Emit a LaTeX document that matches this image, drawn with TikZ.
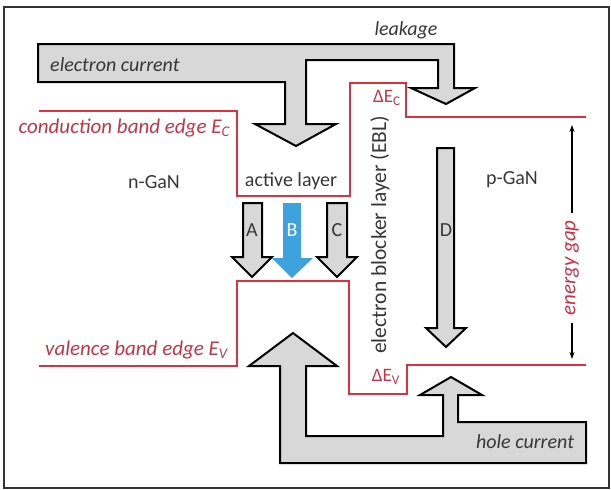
\documentclass[tikz,border=0pt]{standalone}
\usepackage{fontspec}
\setmainfont{Carlito}
\usetikzlibrary{arrows.meta}
\definecolor{bandred}{RGB}{222,48,62}
\definecolor{labred}{RGB}{200,50,70}
\definecolor{txtgray}{RGB}{55,55,55}
\definecolor{arrgray}{RGB}{216,216,216}
\definecolor{arrblue}{RGB}{62,162,222}
\begin{document}
\begin{tikzpicture}[x=1pt,y=-1pt,
  band/.style={draw=bandred,line width=2pt,line join=miter},
  bigarrow/.style={draw=black,fill=arrgray,line width=2pt,line join=miter},
  smallarrow/.style={draw=black,fill=arrgray,line width=2pt,line join=miter},
  bluearrow/.style={fill=arrblue},
  lbl/.style={text=txtgray,font=\fontsize{20}{24}\selectfont,inner sep=0pt},
  ilbl/.style={text=txtgray,font=\fontsize{20}{24}\selectfont\itshape,inner sep=0pt},
  redlbl/.style={text=labred,font=\fontsize{21}{25}\selectfont\itshape,inner sep=0pt},
  dlbl/.style={text=labred,font=\fontsize{19}{22}\selectfont,inner sep=0pt},
  gaparr/.style={draw=black,line width=1.1pt,-{Stealth[length=7pt,width=5pt]}}]
\useasboundingbox (0,0) rectangle (611,490);
\draw[line width=1.2pt,draw=black!80] (4,7) rectangle (609,488);
% band edges
\draw[band] (39,111) -- (237,111) -- (237,196) -- (350,196) -- (350,83) -- (406,83) -- (406,117) -- (586,117);
\draw[band] (39,366) -- (237,366) -- (237,281) -- (349,281) -- (349,394) -- (407,394) -- (407,365) -- (586,365);
% electron current + leakage
\draw[bigarrow] (38,44) -- (454,44) -- (454,88) -- (475,88) -- (446,104) -- (411,88) -- (438,88) -- (438,60) -- (306,60) -- (306,124) -- (336,124) -- (296,146) -- (255,124) -- (285,124) -- (285,82) -- (38,82) -- cycle;
% hole current
\draw[bigarrow] (280,463) -- (586,463) -- (586,422) -- (458,422) -- (458,395) -- (482,395) -- (451,377) -- (420,395) -- (443,395) -- (443,436) -- (306,436) -- (306,366) -- (337,366) -- (293,333) -- (249,366) -- (280,366) -- cycle;
% A B C D
\draw[smallarrow] (243,203) -- (262,203) -- (262,257) -- (272,257) -- (252,277) -- (232,257) -- (243,257) -- cycle;
\fill[bluearrow] (283,203) -- (301,203) -- (301,258) -- (313,258) -- (292,278) -- (272,258) -- (283,258) -- cycle;
\draw[smallarrow] (327,203) -- (347,203) -- (347,257) -- (357,257) -- (337,277) -- (317,257) -- (327,257) -- cycle;
\draw[smallarrow] (437,148) -- (454,148) -- (454,328) -- (466,328) -- (446,347) -- (426,328) -- (437,328) -- cycle;
\node[lbl] (la) at (252,230) {A};
\node[lbl,text=white] (lb) at (292,230) {B};
\node[lbl] (lc) at (337,230) {C};
\node[lbl] (ld) at (446,230) {D};
% labels
\node[ilbl,anchor=west] (ec) at (50,65) {electron current};
\node[ilbl] (leak) at (406,30) {leakage};
\node[redlbl,anchor=east] (cb) at (230,128) {conduction band edge E\textsubscript{C}};
\node[redlbl,anchor=east] (vb) at (228,350) {valence band edge E\textsubscript{V}};
\node[lbl] (ngan) at (154,182) {n-GaN};
\node[lbl] (act) at (291,181) {active layer};
\node[lbl] (pgan) at (512,180) {p-GaN};
\node[dlbl] (dec) at (387,98) {ΔE\textsubscript{C}};
\node[dlbl] (dev) at (386,377) {ΔE\textsubscript{V}};
\node[lbl,rotate=90,font=\fontsize{21.5}{25}\selectfont] (ebl) at (380,235) {electron blocker layer (EBL)};
\node[ilbl] (hole) at (525,442) {hole current};
\node[redlbl,rotate=90] (eg) at (572,268) {energy gap};
\coordinate (gtop) at (572,125);
\coordinate (gbot) at (572,359);
\draw[gaparr,shorten <=7pt] (eg.east) -- (gtop);
\draw[gaparr,shorten <=7pt] (eg.west) -- (gbot);
\end{tikzpicture}
\end{document}
